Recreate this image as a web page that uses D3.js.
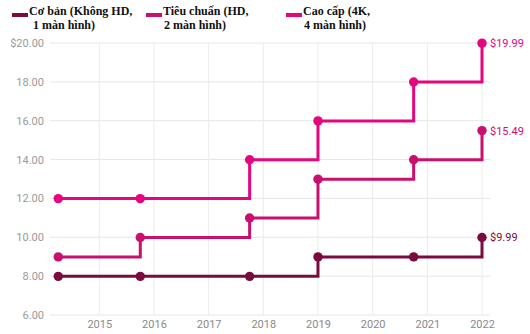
<!DOCTYPE html>
<html><head><meta charset="utf-8">
<script src="https://cdn.jsdelivr.net/npm/d3@7"></script>
<style>body{margin:0;background:#fff}svg{display:block}</style>
</head><body>
<script>
const dates = [2014.25, 2015.75, 2017.75, 2019.0, 2020.75, 2022.0];
const basic = [7.99, 7.99, 7.99, 8.99, 8.99, 9.99];
const standard = [8.99, 9.99, 10.99, 12.99, 13.99, 15.49];
const premium = [11.99, 11.99, 13.99, 15.99, 17.99, 19.99];
const seriesNames = ["Cơ bản (Không HD,|1 màn hình)", "Tiêu chuẩn (HD,|2 màn hình)", "Cao cấp (4K,|4 màn hình)"];
const yTicks = [6, 8, 10, 12, 14, 16, 18, 20];
const xTicks = [2015, 2016, 2017, 2018, 2019, 2020, 2021, 2022];

const colors = ["#7a0b3e", "#c8106f", "#e4067f"];
const series = [basic, standard, premium];

const W = 530, H = 334;
const svg = d3.select("body").append("svg").attr("width", W).attr("height", H);
const x = d3.scaleLinear().domain([2014, 2022]).range([44.6, 482]);
const y = d3.scaleLinear().domain([6, 20]).range([315, 43]);

// grid
const g = svg.append("g");
g.selectAll(".hg").data(yTicks).join("line")
  .attr("x1", 50).attr("x2", 490).attr("y1", d => y(d)).attr("y2", d => y(d))
  .attr("stroke", "#e6e6e6").attr("stroke-width", 1);
g.selectAll(".vg").data(xTicks).join("line")
  .attr("x1", d => x(d)).attr("x2", d => x(d)).attr("y1", 43).attr("y2", 315)
  .attr("stroke", "#ececec").attr("stroke-width", 1);

// y labels
const yAxis = d3.axisLeft(y).tickValues(yTicks).tickSize(0).tickPadding(0)
  .tickFormat(d => (d === 20 ? "$" : "") + d.toFixed(2));
svg.append("g").attr("transform", "translate(44,0)").call(yAxis)
  .call(s => s.select(".domain").remove())
  .selectAll("text").attr("fill", "#9a9a9a").attr("font-family", "Roboto, sans-serif").attr("font-size", 11);

// x labels
const xAxis = d3.axisBottom(x).tickValues(xTicks).tickSize(0).tickPadding(0).tickFormat(d3.format("d"));
svg.append("g").attr("transform", "translate(0,320)").call(xAxis)
  .call(s => s.select(".domain").remove())
  .selectAll("text").attr("fill", "#8a8a8a").attr("font-family", "Roboto, sans-serif").attr("font-size", 11);

// lines
const line = d3.line().x((d, i) => x(dates[i])).y(d => y(d)).curve(d3.curveStepAfter);
series.forEach((s, k) => {
  svg.append("path").datum(s).attr("d", line).attr("fill", "none")
    .attr("stroke", colors[k]).attr("stroke-width", 3);
  svg.selectAll(null).data(s).join("circle")
    .attr("cx", (d, i) => x(dates[i])).attr("cy", d => y(d)).attr("r", 4.7)
    .attr("fill", colors[k]);
  const last = s[s.length - 1];
  svg.append("text").attr("x", x(dates[dates.length - 1]) + 8).attr("y", y(last) + 4)
    .attr("fill", colors[k]).attr("font-family", "Roboto, sans-serif").attr("font-size", 11)
    .text("$" + last.toFixed(2));
});

// legend
const legX = [12, 146, 286];
seriesNames.forEach((n, k) => {
  const lg = svg.append("g").attr("transform", `translate(${legX[k]},0)`);
  lg.append("line").attr("x1", 0).attr("x2", 16).attr("y1", 15).attr("y2", 15)
    .attr("stroke", colors[k]).attr("stroke-width", 4);
  const parts = n.split("|");
  const t = lg.append("text").attr("font-family", "Liberation Serif, serif").attr("font-weight", "bold")
    .attr("font-size", 12).attr("fill", "#111");
  t.append("tspan").attr("x", 17).attr("y", 15).text(parts[0]);
  t.append("tspan").attr("x", k === 0 ? 21 : 18).attr("y", 29).text(parts[1]);
});
</script>
</body></html>
